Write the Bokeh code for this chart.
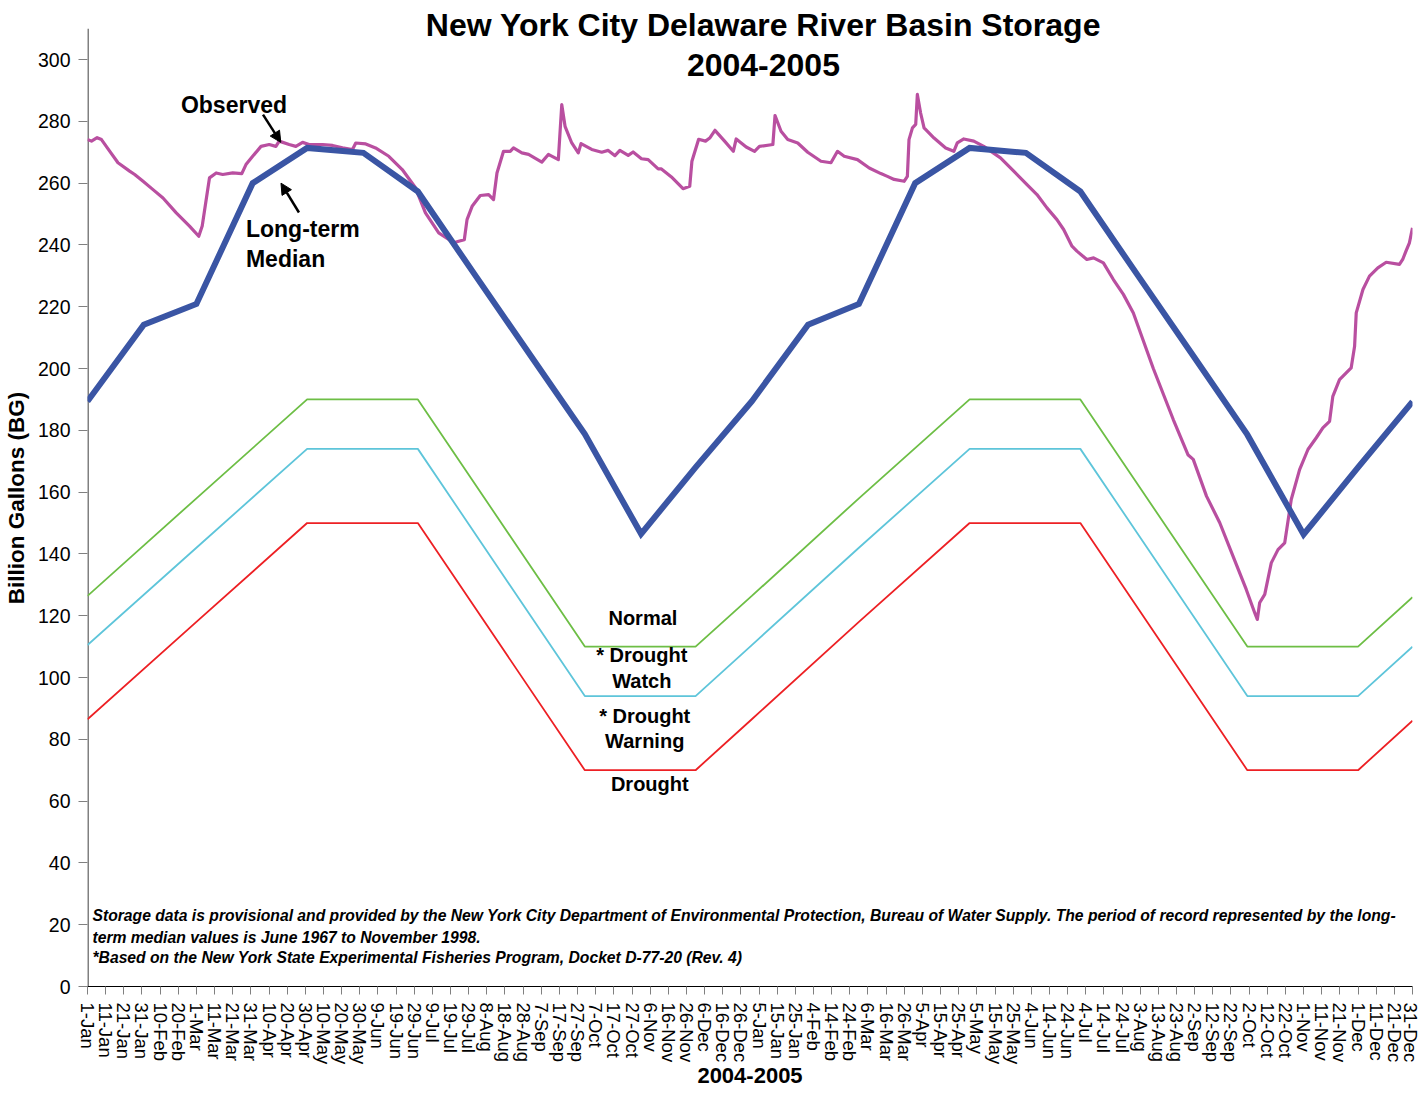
import math
from datetime import date, timedelta
import pandas as pd
from bokeh.plotting import figure
from bokeh.models import FixedTicker, Label, Arrow, NormalHead, Range1d
from bokeh.embed import file_html
from bokeh.resources import INLINE

START = date(2004, 1, 1)

# ---------------- data ----------------
tick_days = list(range(0, 731, 10))
tick_labels = [f"{(START + timedelta(days=d)).day}-{(START + timedelta(days=d)).strftime('%b')}" for d in tick_days]
y_ticks = list(range(0, 301, 20))
y_axis_top = 310

median_dates = ["2004-01-01", "2004-02-01", "2004-03-01", "2004-04-01", "2004-05-01", "2004-06-01",
                "2004-07-01", "2004-08-01", "2004-09-01", "2004-10-01", "2004-11-01", "2004-12-01",
                "2005-01-01", "2005-02-01", "2005-03-01", "2005-04-01", "2005-05-01", "2005-06-01",
                "2005-07-01", "2005-08-01", "2005-09-01", "2005-10-01", "2005-11-01", "2005-12-01",
                "2005-12-31"]
median_vals = [189.4, 214.2, 220.9, 260.0, 271.4, 269.8, 257.3, 230.7, 204.3, 178.8, 146.5, 168.0,
               189.4, 214.2, 220.9, 260.0, 271.4, 269.8, 257.3, 230.7, 204.3, 178.6, 146.3, 168.0,
               189.3]

rule_dates = ["2004-01-01", "2004-03-01", "2004-05-01", "2004-07-01", "2004-10-01", "2004-12-01",
              "2005-01-01", "2005-03-01", "2005-05-01", "2005-07-01", "2005-10-01", "2005-12-01",
              "2005-12-31"]
normal_vals = [126.4, 158.0, 190.0, 190.0, 110.0, 110.0, 126.4, 158.0, 190.0, 190.0, 110.0, 110.0, 126.0]
watch_vals = [110.5, 142.0, 174.0, 174.0, 94.0, 94.0, 110.5, 142.0, 174.0, 174.0, 94.0, 94.0, 110.0]
warning_vals = [86.5, 118.0, 150.0, 150.0, 70.0, 70.0, 86.5, 118.0, 150.0, 150.0, 70.0, 70.0, 86.0]

# observed storage: day offset from 1-Jan-2004, billion gallons
obs_day = [0, 2.2, 5.3, 7.7, 12.3, 16.8, 23.2, 26, 30.6, 36.1, 41.6, 48.9, 56.2, 61.3, 63.2, 65.4,
           67.2, 70.9, 74.5, 80, 85, 87.3, 91, 95.6, 100.1, 103.8, 105.6, 111.1, 114.8, 118.5, 122.1,
           129.5, 135, 140.5, 146, 147.8, 153.3, 158.7, 166, 173.4, 180.7, 186.2, 193.5, 201.8, 204.5,
           207.6, 209.1, 211.9, 216.4, 221, 223.7, 225.6, 229.2, 232.9, 234.7, 239.3, 243, 250.3,
           253.9, 259.4, 261.3, 263.1, 266.8, 270.4, 271.9, 277.8, 283.3, 286.9, 290.6, 293.3, 297.9,
           300.6, 305.2, 308.9, 314.4, 316.2, 321.7, 328.1, 331.8, 333, 336.7, 340.5, 342.8, 345.7,
           351, 355.8, 357.4, 362.9, 367.5, 370.2, 377.6, 378.8, 382.1, 385.8, 391.3, 396.8, 404.1,
           409.6, 413.2, 416.9, 424.2, 430.7, 437.1, 440.7, 444.4, 449.9, 451.7, 452.6, 454.5, 456.3,
           457.2, 459, 460.9, 466.4, 472.8, 477.3, 479.2, 482.8, 488.3, 493.8, 503, 510.3, 517.6,
           523.1, 528.6, 534.1, 537.8, 542.4, 545.1, 550.6, 554.3, 559.7, 565.2, 570.7, 576.2, 587.2,
           598.2, 606.4, 609.2, 616.5, 623.8, 631.1, 638.4, 643.1, 644.5, 645.8, 648.6, 652.2, 655.9,
           659.6, 663.2, 667.8, 672.4, 677, 680.6, 684.3, 686.1, 689.8, 696.2, 698.1, 699, 702.7,
           706.3, 710.9, 715.5, 722.8, 724.6, 726.4, 728.3, 730]
obs_val = [274.1, 273.6, 274.7, 274.1, 270.3, 266.6, 263.9, 262.8, 260.6, 257.9, 255.2, 250.4, 246.1,
           242.8, 246.1, 254.7, 261.7, 263.3, 262.8, 263.3, 263.1, 266.0, 268.7, 271.9, 272.5, 271.9,
           273.6, 272.5, 271.9, 273.2, 272.5, 272.5, 272.2, 271.4, 270.9, 273.0, 272.7, 271.4, 268.7,
           264.4, 258.5, 250.4, 243.9, 240.7, 241.2, 241.7, 248.2, 252.5, 256.0, 256.3, 254.7, 263.3,
           270.3, 270.3, 271.4, 269.8, 269.3, 266.8, 269.3, 267.6, 285.4, 278.4, 273.0, 269.8, 272.8,
           270.9, 270.0, 270.6, 268.9, 270.6, 269.0, 270.1, 267.9, 267.6, 264.6, 264.6, 262.0, 258.2,
           259.0, 267.1, 274.2, 273.6, 274.6, 277.1, 273.6, 270.3, 274.3, 271.7, 270.3, 271.9, 272.5,
           281.9, 276.8, 274.1, 273.0, 270.0, 267.1, 266.6, 270.3, 268.7, 267.6, 264.9, 263.1, 262.2,
           261.2, 260.6, 262.2, 274.1, 277.9, 279.0, 288.7, 282.7, 277.9, 274.6, 271.4, 270.3, 273.0,
           274.3, 273.6, 271.9, 268.2, 263.9, 259.5, 256.3, 252.0, 248.2, 245.0, 239.6, 238.0, 235.3,
           235.8, 234.2, 228.8, 224.0, 218.0, 200.0, 183.5, 172.0, 170.6, 158.7, 150.1, 139.3, 128.5,
           120.9, 118.8, 124.2, 126.9, 137.1, 141.4, 143.6, 157.6, 167.3, 173.8, 177.6, 180.8, 182.9,
           191.0, 196.4, 200.2, 207.2, 218.0, 225.6, 229.9, 232.6, 234.4, 233.7, 235.3, 238.0, 240.7,
           245.5]


def to_days(ds):
    return [(pd.Timestamp(d).date() - START).days for d in ds]


FONT = "Liberation Sans"

p = figure(frame_width=1325, frame_height=977,
           x_range=Range1d(0, 730), y_range=Range1d(0, 316.2),
           output_backend="svg", toolbar_location=None,
           min_border_left=83, min_border_right=8, min_border_top=9, min_border_bottom=106)
p.outline_line_color = None
p.grid.visible = False
p.background_fill_color = "white"
p.border_fill_color = "white"

# y axis line (only up to the axis top, title sits above it)
p.segment(x0=[0], y0=[0], x1=[0], y1=[y_axis_top], line_color="#808080", line_width=3)

# threshold lines
rd = to_days(rule_dates)
p.line(rd, normal_vals, line_color="#6DBE45", line_width=1.8)
p.line(rd, watch_vals, line_color="#5EC5DA", line_width=1.8)
p.line(rd, warning_vals, line_color="#ED2024", line_width=1.8)
# observed
p.line(obs_day, obs_val, line_color="#B94FA0", line_width=3.2, line_join="round")
# median
p.line(to_days(median_dates), median_vals, line_color="#3A55A4", line_width=6, line_join="miter")

# axes
xa = p.xaxis[0]
xa.ticker = FixedTicker(ticks=tick_days)
xa.major_label_overrides = {d: lab for d, lab in zip(tick_days, tick_labels)}
xa.major_label_orientation = -math.pi / 2
xa.major_label_text_font = FONT
xa.major_label_text_font_size = "18.5px"
xa.major_label_text_color = "black"
xa.major_label_standoff = 8
xa.major_tick_out = 8
xa.major_tick_in = 0
xa.minor_tick_out = 0
xa.minor_tick_in = 0
xa.major_tick_line_color = "#808080"
xa.axis_line_color = "black"
xa.axis_line_width = 1.2
xa.axis_label = "2004-2005"
xa.axis_label_text_font = FONT
xa.axis_label_text_font_style = "bold"
xa.axis_label_text_font_size = "22px"
xa.axis_label_text_color = "black"
xa.axis_label_standoff = 1

ya = p.yaxis[0]
ya.ticker = FixedTicker(ticks=y_ticks)
ya.major_label_text_font = FONT
ya.major_label_text_font_size = "19.5px"
ya.major_label_text_color = "black"
ya.major_label_standoff = 8
ya.major_tick_out = 9
ya.major_tick_in = 0
ya.minor_tick_out = 0
ya.minor_tick_in = 0
ya.major_tick_line_color = "#808080"
ya.axis_line_color = None
ya.axis_label = "Billion Gallons (BG)"
ya.axis_label_text_font = FONT
ya.axis_label_text_font_style = "bold"
ya.axis_label_text_font_size = "22.5px"
ya.axis_label_text_color = "black"
ya.axis_label_standoff = 6


def lab(x, y, text, size, align="center", style="bold", font=FONT):
    p.add_layout(Label(x=x, y=y, text=text, text_font=font, text_font_size=size,
                       text_font_style=style, text_align=align, text_baseline="middle",
                       text_color="black"))


# title
lab(372.4, 311.3, "New York City Delaware River Basin Storage", "32px")
lab(372.4, 298.1, "2004-2005", "32px")

# series annotations
lab(80.7, 285.4, "Observed", "23px")
lab(87.3, 245.0, "Long-term", "23px", align="left")
lab(87.3, 235.3, "Median", "23px", align="left")
p.add_layout(Arrow(end=NormalHead(size=11, fill_color="black", line_color="black"),
                   x_start=96.7, y_start=282.2, x_end=106.5, y_end=273.2,
                   line_color="black", line_width=2.5))
p.add_layout(Arrow(end=NormalHead(size=11, fill_color="black", line_color="black"),
                   x_start=116.5, y_start=250.5, x_end=106.6, y_end=260.0,
                   line_color="black", line_width=2.5))

# zone labels
lab(306.0, 119.4, "Normal", "20px")
lab(305.4, 107.4, "* Drought", "20px")
lab(305.4, 99.0, "Watch", "20px")
lab(307.0, 87.7, "* Drought", "20px")
lab(307.0, 79.3, "Warning", "20px")
lab(309.8, 65.4, "Drought", "20px")

# footnote
foot = ["Storage data is provisional and provided by the New York City Department of Environmental Protection, Bureau of Water Supply. The period of record represented by the long-",
        "term median values is June 1967 to November 1998.",
        "*Based on the New York State Experimental Fisheries Program, Docket D-77-20 (Rev. 4)"]
for txt, yv in zip(foot, [23.0, 15.9, 9.4]):
    lab(2.75, yv, txt, "15.7px", align="left", style="bold italic")

open("out.html", "w").write(file_html(p, INLINE, title="NYC Delaware River Basin Storage"))
